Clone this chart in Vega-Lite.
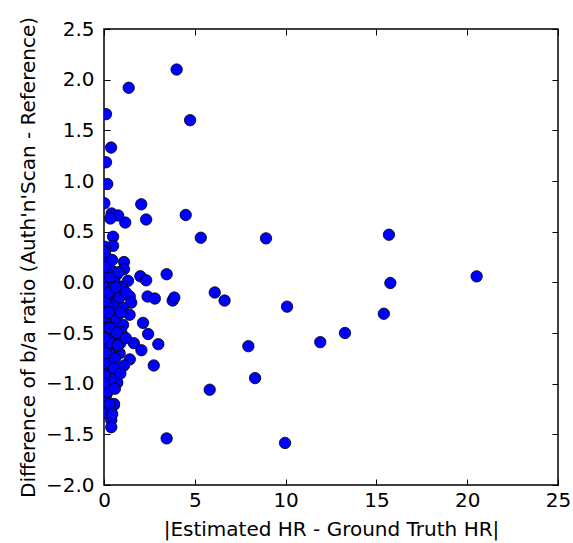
{
  "$schema": "https://vega.github.io/schema/vega-lite/v6.json",
  "width": 454,
  "height": 456,
  "autosize": {"type": "none"},
  "padding": {"left": 104, "top": 29, "right": 15, "bottom": 58},
  "background": "white",
  "config": {
    "view": {"stroke": "black", "strokeWidth": 1.5},
    "axis": {
      "grid": false,
      "domain": false,
      "tickColor": "black",
      "tickWidth": 1,
      "tickSize": -6,
      "labelColor": "black",
      "titleColor": "black",
      "labelFont": "DejaVu Sans",
      "titleFont": "DejaVu Sans",
      "labelFontSize": 20,
      "titleFontSize": 20,
      "titleFontWeight": "normal",
      "labelFlush": false,
      "labelOverlap": false,
      "labelBound": false
    }
  },
  "data": {
    "values": [
      {"hr": 4.0, "d": 2.10}, {"hr": 1.36, "d": 1.92}, {"hr": 0.11, "d": 1.66}, {"hr": 4.74, "d": 1.60},
      {"hr": 0.39, "d": 1.33}, {"hr": 0.11, "d": 1.185}, {"hr": 0.18, "d": 0.97}, {"hr": 0.02, "d": 0.78},
      {"hr": 2.05, "d": 0.77}, {"hr": 0.42, "d": 0.68}, {"hr": 0.78, "d": 0.66}, {"hr": 0.35, "d": 0.63},
      {"hr": 1.17, "d": 0.59}, {"hr": 2.32, "d": 0.62}, {"hr": 4.5, "d": 0.665}, {"hr": 5.33, "d": 0.44},
      {"hr": 8.92, "d": 0.434}, {"hr": 15.69, "d": 0.47}, {"hr": 20.52, "d": 0.059}, {"hr": 15.77, "d": -0.007},
      {"hr": 6.1, "d": -0.10}, {"hr": 6.64, "d": -0.18}, {"hr": 10.08, "d": -0.24}, {"hr": 15.41, "d": -0.31},
      {"hr": 13.27, "d": -0.50}, {"hr": 11.91, "d": -0.59}, {"hr": 7.95, "d": -0.63}, {"hr": 8.32, "d": -0.945},
      {"hr": 5.82, "d": -1.06}, {"hr": 9.97, "d": -1.585}, {"hr": 3.45, "d": -1.54},
      {"hr": 0.5, "d": 0.45}, {"hr": 0.5, "d": 0.36}, {"hr": 0.07, "d": 0.35}, {"hr": 0.13, "d": 0.25},
      {"hr": 1.1, "d": 0.2}, {"hr": 1.1, "d": 0.13}, {"hr": 2.0, "d": 0.06}, {"hr": 2.32, "d": 0.02},
      {"hr": 3.45, "d": 0.08}, {"hr": 2.4, "d": -0.14}, {"hr": 2.8, "d": -0.16}, {"hr": 3.78, "d": -0.18},
      {"hr": 3.87, "d": -0.15}, {"hr": 1.42, "d": -0.14}, {"hr": 1.5, "d": -0.2}, {"hr": 2.15, "d": -0.40},
      {"hr": 2.43, "d": -0.51}, {"hr": 2.99, "d": -0.61}, {"hr": 1.64, "d": -0.6}, {"hr": 2.06, "d": -0.67},
      {"hr": 2.74, "d": -0.82}, {"hr": 1.42, "d": -0.76}, {"hr": 1.1, "d": -0.82}, {"hr": 0.7, "d": -0.99},
      {"hr": 0.55, "d": -1.21}, {"hr": 0.4, "d": -1.36}, {"hr": 0.4, "d": -1.43}, {"hr": 0.07, "d": -1.29},
      {"hr": 1.32, "d": 0.015},
      {"hr": 0.18, "d": 0.22}, {"hr": 0.4, "d": 0.12}, {"hr": 0.68, "d": 0.07}, {"hr": 0.13, "d": 0.09},
      {"hr": 0.86, "d": -0.04}, {"hr": 0.31, "d": -0.025}, {"hr": 0.13, "d": 0.025}, {"hr": 0.77, "d": -0.12},
      {"hr": 0.31, "d": -0.14}, {"hr": 0.13, "d": -0.09}, {"hr": 0.59, "d": -0.22}, {"hr": 1.05, "d": -0.25},
      {"hr": 0.22, "d": -0.22}, {"hr": 1.41, "d": -0.32}, {"hr": 0.04, "d": -0.30}, {"hr": 0.77, "d": -0.32},
      {"hr": 0.5, "d": -0.40}, {"hr": 1.05, "d": -0.42}, {"hr": 0.13, "d": -0.39}, {"hr": 0.95, "d": -0.49},
      {"hr": 0.18, "d": -0.52}, {"hr": 0.86, "d": -0.70}, {"hr": 0.22, "d": -0.63}, {"hr": 0.22, "d": -0.75},
      {"hr": 0.31, "d": -0.83}, {"hr": 0.68, "d": -0.90}, {"hr": 0.22, "d": -0.93}, {"hr": 0.73, "d": -0.99},
      {"hr": 0.31, "d": -1.03}, {"hr": 0.13, "d": -1.11}, {"hr": 0.04, "d": -1.19}, {"hr": 0.55, "d": -1.20},
      {"hr": 0.05, "d": 0.3}, {"hr": 0.1, "d": 0.15}, {"hr": 0.05, "d": 0.05}, {"hr": 0.2, "d": -0.05},
      {"hr": 0.08, "d": -0.18}, {"hr": 0.15, "d": -0.35}, {"hr": 0.05, "d": -0.45}, {"hr": 0.1, "d": -0.58},
      {"hr": 0.05, "d": -0.68}, {"hr": 0.15, "d": -0.88}, {"hr": 0.08, "d": -0.98}, {"hr": 0.2, "d": -1.08},
      {"hr": 0.3, "d": -0.45}, {"hr": 0.35, "d": -0.3}, {"hr": 0.45, "d": -0.1}, {"hr": 0.55, "d": 0.0},
      {"hr": 0.6, "d": -0.55}, {"hr": 0.5, "d": -0.65}, {"hr": 0.45, "d": -0.78}, {"hr": 0.4, "d": -0.95},
      {"hr": 0.6, "d": -1.05}, {"hr": 0.65, "d": -0.35}, {"hr": 0.9, "d": -0.6}, {"hr": 0.85, "d": -0.15},
      {"hr": 0.35, "d": 0.05}, {"hr": 0.25, "d": 0.15}, {"hr": 0.45, "d": 0.22}, {"hr": 0.3, "d": -0.7},
      {"hr": 0.1, "d": -0.8}, {"hr": 0.05, "d": -0.92}, {"hr": 0.7, "d": -0.5}, {"hr": 0.6, "d": -0.75},
      {"hr": 0.4, "d": -0.6}, {"hr": 1.0, "d": -0.05}, {"hr": 0.3, "d": -1.2}, {"hr": 0.02, "d": -1.0},
      {"hr": 0.02, "d": -0.55}, {"hr": 0.02, "d": 0.15},
      {"hr": 0.9, "d": -0.3}, {"hr": 0.75, "d": -0.62}, {"hr": 0.55, "d": -0.85}, {"hr": 0.9, "d": -0.9},
      {"hr": 0.25, "d": -0.1}, {"hr": 0.65, "d": -0.05}, {"hr": 1.2, "d": -0.1}, {"hr": 0.8, "d": 0.1},
      {"hr": 1.2, "d": -0.55}, {"hr": 0.45, "d": -1.3}, {"hr": 0.25, "d": -0.3}, {"hr": 0.1, "d": -0.7}
    ]
  },
  "layer": [
    {
      "mark": {"type": "point", "shape": "circle", "filled": true, "fill": "#0000ff", "stroke": "black", "strokeWidth": 0.8, "size": 130, "opacity": 1, "clip": true},
      "encoding": {
        "x": {
          "field": "hr", "type": "quantitative",
          "scale": {"domain": [0, 25], "nice": false, "zero": false},
          "axis": {"values": [0, 5, 10, 15, 20, 25], "format": "d", "labelPadding": 11, "title": "|Estimated HR - Ground Truth HR|", "titlePadding": 9}
        },
        "y": {
          "field": "d", "type": "quantitative",
          "scale": {"domain": [-2.0, 2.5], "nice": false, "zero": false},
          "axis": {"values": [-2.0, -1.5, -1.0, -0.5, 0.0, 0.5, 1.0, 1.5, 2.0, 2.5], "format": ".1f", "labelPadding": 16, "title": "Difference of b/a ratio (Auth'n'Scan - Reference)", "titlePadding": 7}
        }
      }
    },
    {
      "mark": {"type": "point", "opacity": 0},
      "encoding": {
        "x": {"field": "hr", "type": "quantitative", "axis": {"orient": "top", "values": [0, 5, 10, 15, 20, 25], "labels": false, "title": null}},
        "y": {"field": "d", "type": "quantitative", "axis": {"orient": "right", "values": [-2.0, -1.5, -1.0, -0.5, 0.0, 0.5, 1.0, 1.5, 2.0, 2.5], "labels": false, "title": null}}
      }
    }
  ],
  "resolve": {"axis": {"x": "independent", "y": "independent"}}
}
